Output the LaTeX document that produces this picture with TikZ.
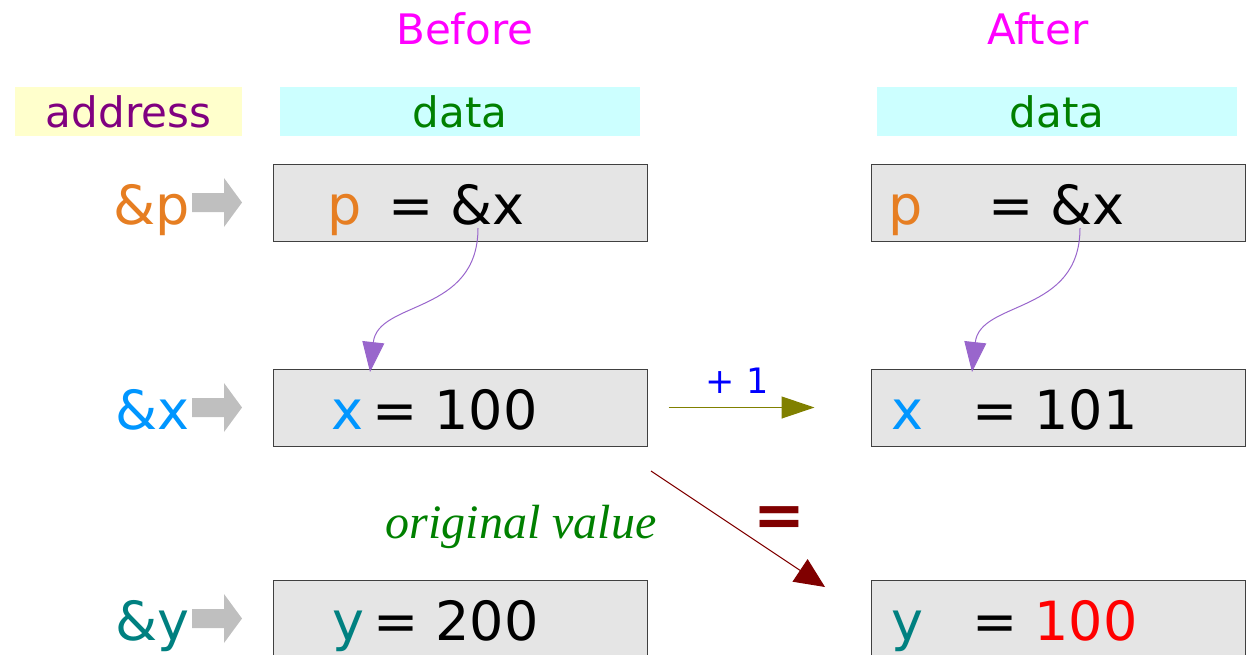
\documentclass[tikz,border=0pt]{standalone}
\usepackage{fontspec}
\setmainfont{DejaVu Sans}
\newfontfamily\notefont{Liberation Serif}
\usetikzlibrary{arrows.meta,positioning}
\definecolor{ptrMagenta}{HTML}{FF00FF}
\definecolor{ptrPurple}{HTML}{800080}
\definecolor{ptrGreen}{HTML}{008000}
\definecolor{ptrYellow}{HTML}{FFFFCC}
\definecolor{ptrCyan}{HTML}{CCFFFF}
\definecolor{ptrOrange}{HTML}{E67E22}
\definecolor{ptrAzure}{HTML}{0096FF}
\definecolor{ptrTeal}{HTML}{008080}
\definecolor{ptrLilac}{HTML}{9966CC}
\definecolor{ptrOlive}{HTML}{808000}
\definecolor{ptrDarkRed}{HTML}{800000}
\definecolor{ptrBlue}{HTML}{0000FF}
\definecolor{ptrRed}{HTML}{FF0000}
\tikzset{
  head/.style={anchor=base, inner sep=0pt, text=ptrMagenta,
              font=\fontsize{42}{48}\selectfont},
  tag/.style={minimum height=49pt, inner sep=0pt, font=\fontsize{42}{48}\selectfont},
  cellbox/.style={draw=black!75, fill=black!10, line width=1pt,
              minimum width=374pt, minimum height=77pt, inner sep=0pt},
  val/.style={anchor=base west, inner sep=0pt, font=\fontsize{54}{62}\selectfont},
  addr/.style={anchor=base east, inner sep=0pt, font=\fontsize{54}{62}\selectfont},
  blockarr/.style={fill=black!25},
  deref/.style={-{Triangle[length=30pt,width=22pt]}, draw=ptrLilac, line width=1pt},
  incr/.style={-{Triangle[length=33pt,width=22pt]}, draw=ptrOlive, line width=1.2pt},
  copyv/.style={-{Triangle[length=30pt,width=27pt]}, draw=ptrDarkRed, line width=1pt},
}

\begin{document}
\begin{tikzpicture}[x=1pt,y=-1pt]
  \useasboundingbox (0,0) rectangle (1252,654);
  % headers
  \node[head] (before) at (465,44) {Before};
  \node[head] (after) at (1038,44) {After};
  \node[tag,fill=ptrYellow,text=ptrPurple,minimum width=227pt] (address) at (128.5,111.5) {address};
  \node[tag,fill=ptrCyan,text=ptrGreen,minimum width=360pt] (dataL) at (460,111.5) {data};
  \node[tag,fill=ptrCyan,text=ptrGreen,minimum width=360pt] (dataR) at (1057,111.5) {data};

  % memory cells
  \foreach \n/\y in {p/202.5,x/407.5,y/618.5}{
    \node[cellbox] (\n L) at (460,\y) {};
    \node[cellbox] (\n R) at (1058,\y) {};
    \fill[blockarr] (192,\y-9.5) -- (224,\y-9.5) -- (224,\y-24.5) -- (242,\y)
      -- (224,\y+24.5) -- (224,\y+9.5) -- (192,\y+9.5) -- cycle;
  }
  \node[addr,text=ptrOrange] (ap) at (190,224) {\&p};
  \node[addr,text=ptrAzure] (ax) at (190,429) {\&x};
  \node[addr,text=ptrTeal] (ay) at (190,640) {\&y};

  \node[val,text=ptrOrange] (pnL) at (327,224) {p};
  \node[val] (pvL) at (388,224) {= \&x};
  \node[val,text=ptrOrange] (pnR) at (888,224) {p};
  \node[val] (pvR) at (988,224) {= \&x};
  \node[val,text=ptrAzure] (xnL) at (331,429) {x};
  \node[val] (xvL) at (372,429) {= 100};
  \node[val,text=ptrAzure] (xnR) at (891,429) {x};
  \node[val] (xvR) at (972,429) {= 101};
  \node[val,text=ptrTeal] (ynL) at (332,640) {y};
  \node[val] (yvL) at (373,640) {= 200};
  \node[val,text=ptrTeal] (ynR) at (891,640) {y};
  \node[val] (yvR) at (972,640) {= \textcolor{ptrRed}{100}};

  % pointers
  \coordinate (srcL) at (478,228);
  \coordinate (dstL) at (370,372);
  \coordinate (srcR) at (1080,228);
  \coordinate (dstR) at (972,372);
  \draw[deref] (srcL) .. controls (478,315) and (378,300) .. (dstL);
  \draw[deref] (srcR) .. controls (1080,315) and (980,300) .. (dstR);

  \draw[incr] ([xshift=21pt]xL.east) -- ([xshift=-56pt]xR.west);
  \node[anchor=base,inner sep=0pt,text=ptrBlue,font=\fontsize{35}{40}\selectfont] (plus) at (737,393) {+ 1};

  \coordinate (cpyA) at (651,471);
  \coordinate (cpyB) at (825,587);
  \draw[copyv] (cpyA) -- (cpyB);
  \node[text=ptrDarkRed,font=\fontsize{62}{70}\selectfont\bfseries] (eq) at (779,522) {=};
  \node[anchor=base,inner sep=0pt,text=ptrGreen,font=\notefont\itshape\fontsize{48}{56}\selectfont] (orig) at (521,538) {original value};
\end{tikzpicture}
\end{document}
